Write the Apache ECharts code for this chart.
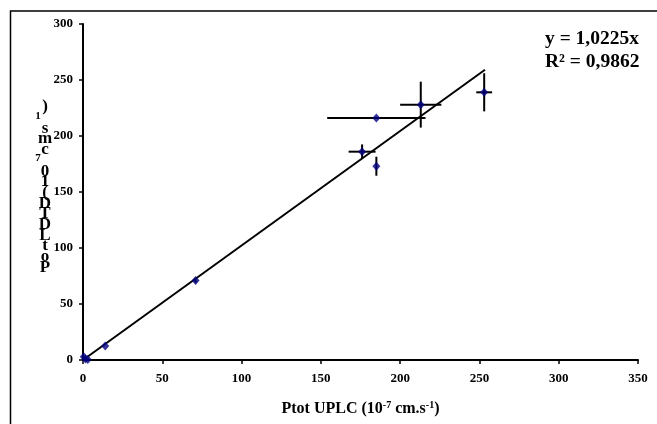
<!DOCTYPE html>
<html>
<head>
<meta charset="utf-8">
<script src="https://cdn.jsdelivr.net/npm/echarts@6/dist/echarts.min.js"></script>
<style>html,body{margin:0;padding:0;background:#fff}#c{width:657px;height:424px}</style>
</head>
<body>
<div id="c"></div>
<script>
// ---- data ----
var xVals = [0.5, 1.5, 3, 14, 71, 176, 185, 185, 213, 253];
var yVals = [3, 1, 0.5, 12.5, 71, 186, 173, 216, 228, 239];
var xErr  = [0, 0, 0, 0, 0, 8.5, 0, 31, 13, 5];
var yErr  = [0, 0, 0, 0, 2, 6.5, 8.5, 0, 20.5, 17];
var trendX = [0, 253.5];
var trendY = [0, 259.2];
var xTicks = [0, 50, 100, 150, 200, 250, 300, 350];
var yTicks = [0, 50, 100, 150, 200, 250, 300];
var equationLines = ['y = 1,0225x', 'R² = 0,9862'];
var yLabelChars = [')', '1', 's', 'm', 'c', '7', '0', '1', '(', 'D', 'T', 'D', 'L', 't', 'o', 'P'];
var yLabelSup = [false, true, false, false, false, true, false, false, false, false, false, false, false, false, false, false];

var FONT = '"Liberation Serif", "Times New Roman", serif';
var chart = echarts.init(document.getElementById('c'), null, {renderer: 'canvas'});

var pts = xVals.map(function (x, i) { return [x, yVals[i]]; });
var errData = xVals.map(function (x, i) { return [x, yVals[i], xErr[i], yErr[i]]; });

var graphics = [{
  type: 'rect', shape: {x: 10.5, y: 11, width: 700, height: 500},
  style: {fill: 'none', stroke: '#000', lineWidth: 1.5}, z: 100
}];
yLabelChars.forEach(function (ch, i) {
  graphics.push({
    type: 'text', x: yLabelSup[i] ? 38 : 45, y: 107 + i * 10.7 + (yLabelSup[i] ? -2 : 0),
    style: {text: ch, font: 'bold ' + (yLabelSup[i] ? 11 : 17) + 'px ' + FONT,
            fill: '#000', textAlign: 'center', textVerticalAlign: 'middle'}
  });
});
equationLines.forEach(function (t, i) {
  graphics.push({
    type: 'text', x: 545, y: 39 + i * 23,
    style: {text: t, font: 'bold 19.5px ' + FONT, fill: '#000', textAlign: 'left', textVerticalAlign: 'middle'}
  });
});

chart.setOption({
  animation: false,
  backgroundColor: '#fff',
  grid: {left: 83, right: 19, top: 24, bottom: 64},
  xAxis: {
    type: 'value', min: xTicks[0], max: xTicks[xTicks.length - 1], interval: 50,
    splitLine: {show: false},
    axisLine: {show: true, onZero: false, lineStyle: {color: '#000', width: 2}},
    axisTick: {show: true, length: 4, lineStyle: {color: '#000', width: 1.5}},
    axisLabel: {color: '#000', fontFamily: FONT, fontWeight: 'bold', fontSize: 13, margin: 12},
    name: '{t|Ptot UPLC (10}{s|-7}{t| cm.s}{s|-1}{t|)}',
    nameLocation: 'middle', nameGap: 40,
    nameTextStyle: {
      rich: {
        t: {fontFamily: FONT, fontWeight: 'bold', fontSize: 16, color: '#000'},
        s: {fontFamily: FONT, fontWeight: 'bold', fontSize: 10, color: '#000', verticalAlign: 'top', padding: [0, 0, 8, 0]}
      }
    }
  },
  yAxis: {
    type: 'value', min: yTicks[0], max: yTicks[yTicks.length - 1], interval: 50,
    splitLine: {show: false},
    axisLine: {show: true, onZero: false, lineStyle: {color: '#000', width: 2}},
    axisTick: {show: true, length: 4, lineStyle: {color: '#000', width: 1.5}},
    axisLabel: {color: '#000', fontFamily: FONT, fontWeight: 'bold', fontSize: 13, margin: 10}
  },
  graphic: graphics,
  series: [
    {
      type: 'line', data: trendX.map(function (x, i) { return [x, trendY[i]]; }),
      symbol: 'none', lineStyle: {color: '#000', width: 2}, z: 2, silent: true
    },
    {
      type: 'custom', z: 3, silent: true,
      renderItem: function (params, api) {
        var x = api.value(0), y = api.value(1), ex = api.value(2), ey = api.value(3);
        var children = [];
        var st = {stroke: '#000', lineWidth: 2};
        if (ex > 0) {
          var a = api.coord([x - ex, y]), b = api.coord([x + ex, y]);
          children.push({type: 'line', shape: {x1: a[0], y1: a[1], x2: b[0], y2: b[1]}, style: st});
        }
        if (ey > 0) {
          var c = api.coord([x, y - ey]), d = api.coord([x, y + ey]);
          children.push({type: 'line', shape: {x1: c[0], y1: c[1], x2: d[0], y2: d[1]}, style: st});
        }
        return {type: 'group', children: children};
      },
      encode: {x: 0, y: 1},
      data: errData
    },
    {
      type: 'scatter', data: pts, symbol: 'diamond', symbolSize: [8, 9],
      itemStyle: {color: '#000080'}, z: 4
    }
  ]
});
</script>
</body>
</html>
